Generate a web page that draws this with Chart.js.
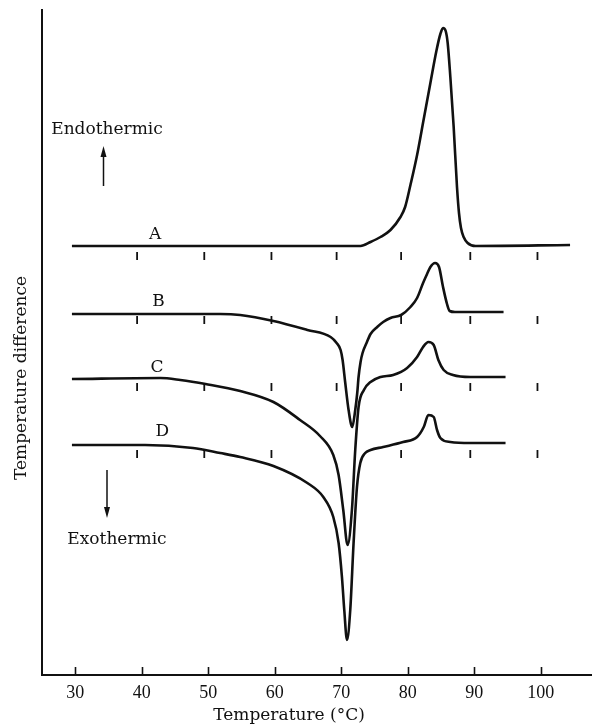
<!DOCTYPE html>
<html>
<head>
<meta charset="utf-8">
<script src="https://cdn.jsdelivr.net/npm/chart.js@4.4.1/dist/chart.umd.min.js"></script>
<style>
  html, body { margin: 0; padding: 0; background: #fff; }
  #wrap { width: 592px; height: 726px; }
</style>
</head>
<body>
<div id="wrap"><canvas id="dta" width="592" height="726"></canvas></div>
<script>
// Temperature axis labels
const xTicks = [30, 40, 50, 60, 70, 80, 90, 100];

// Curve A
const aTemp = [29.5, 50, 72.9, 74.4, 75.9, 77.4, 78.9, 79.6, 80.4, 81.4, 82.4, 83.4, 84.3, 84.9, 85.3, 85.7, 86.0, 86.4, 86.9, 87.4, 87.7, 88.0, 88.4, 89.0, 90.2, 104.4];
const aVal  = [429, 429, 429, 433, 438, 445, 458, 468, 490, 520, 556, 592, 624, 641, 647, 644, 632, 598, 548, 488, 462, 447, 438, 432, 429, 430];

// Curve B
const bTemp = [29.5, 42.8, 51.8, 54.8, 59.8, 64.9, 68.4, 69.3, 69.9, 70.2, 70.6, 71.1, 71.65, 72.1, 72.4, 72.6, 72.9, 73.2, 73.8, 74.4, 75.4, 76.3, 77.4, 79.0, 80.4, 81.4, 82.3, 82.9, 83.4, 84.1, 84.7, 85.3, 85.9, 86.3, 87.1, 94.4];
const bVal  = [361, 361, 361, 360, 354, 345, 338, 332, 325, 315, 292, 265, 248, 265, 282, 298, 313, 322, 332, 341, 348, 353, 357, 360, 368, 377, 392, 401, 408, 412, 408, 388, 371, 364, 363, 363];

// Curve C
const cTemp = [29.5, 42.8, 45.8, 49.6, 54.8, 59.8, 63.8, 66.8, 68.8, 69.6, 70.3, 70.95, 71.6, 72.1, 72.6, 73.4, 74.4, 75.9, 77.8, 79.9, 81.4, 82.3, 83.1, 83.9, 84.6, 85.4, 86.8, 89.4, 94.7];
const cVal  = [296, 297, 295, 291, 284, 273, 255, 239, 220, 200, 165, 130, 165, 225, 268, 285, 293, 298, 300, 307, 318, 328, 333, 330, 315, 305, 300, 298, 298];

// Curve D
const dTemp = [29.5, 40.5, 47.7, 51.8, 54.8, 59.8, 64.9, 67.3, 68.8, 69.6, 70.1, 70.45, 70.86, 71.35, 71.85, 72.36, 72.86, 73.6, 74.4, 76.3, 79.3, 81.4, 82.4, 83.1, 83.9, 84.4, 84.9, 86.4, 89.4, 94.7];
const dVal  = [230, 230, 227, 222, 218, 209, 192, 178, 158, 132, 98, 65, 35, 65, 132, 188, 212, 222, 225, 228, 233, 238, 248, 260, 258, 245, 237, 233, 232, 232];

// Temperature marks drawn under each curve
const markTemp  = [39.3, 49.4, 59.5, 69.3, 79.0, 89.4, 99.5];
const markTempD = [39.3, 49.4, 59.5, 79.0, 89.4, 99.5];
const markLevel = { A: 419, B: 355, C: 288, D: 221 };

const INK = '#111';
const TEXT_FONT = '17px "DejaVu Serif", serif';

function pts(xs, ys) {
    return xs.map((x, i) => ({ x: x, y: ys[i] }));
}

function curve(label, xs, ys) {
    return {
        label: label,
        data: pts(xs, ys),
        borderColor: INK,
        borderWidth: 2.6,
        pointRadius: 0,
        cubicInterpolationMode: 'monotone',
        fill: false
    };
}

function marks(label, xs, level) {
    return {
        label: label,
        data: xs.map(x => ({ x: x, y: level })),
        showLine: false,
        pointStyle: 'line',
        rotation: 90,
        pointRadius: 4,
        borderColor: INK,
        borderWidth: 1.8
    };
}

// Text and arrows put on the chart (curve labels use data coordinates)
const curveLabels = [
    { text: 'A', x: 42.0, y: 440 },
    { text: 'B', x: 42.5, y: 373 },
    { text: 'C', x: 42.3, y: 307 },
    { text: 'D', x: 43.1, y: 243 }
];

const annotPlugin = {
    id: 'annot',
    afterDraw(chart) {
        const ctx = chart.ctx;
        const xs = chart.scales.x;
        const ys = chart.scales.y;
        const bottom = chart.chartArea.bottom;
        ctx.save();
        ctx.strokeStyle = INK;
        ctx.fillStyle = INK;

        // inward ticks on the temperature axis
        ctx.lineWidth = 1.6;
        xTicks.forEach(v => {
            const px = Math.round(xs.getPixelForValue(v)) + 0.5;
            ctx.beginPath();
            ctx.moveTo(px, bottom);
            ctx.lineTo(px, bottom - 8);
            ctx.stroke();
        });

        ctx.font = TEXT_FONT;
        ctx.textAlign = 'center';
        ctx.textBaseline = 'middle';
        curveLabels.forEach(l => {
            ctx.fillText(l.text, xs.getPixelForValue(l.x), ys.getPixelForValue(l.y));
        });

        ctx.fillText('Endothermic', 107, 130);
        ctx.fillText('Exothermic', 117, 540);
        ctx.fillText('Temperature (°C)', 289, 716);

        // arrows
        const arrow = (x, y1, y2) => {
            const dir = y2 < y1 ? -1 : 1;
            ctx.lineWidth = 1.5;
            ctx.beginPath();
            ctx.moveTo(x, y1);
            ctx.lineTo(x, y2 - dir * 8);
            ctx.stroke();
            ctx.beginPath();
            ctx.moveTo(x, y2);
            ctx.lineTo(x - 3, y2 - dir * 11);
            ctx.lineTo(x + 3, y2 - dir * 11);
            ctx.closePath();
            ctx.fill();
        };
        arrow(103.5, 186, 146);
        arrow(107, 470, 518);

        // vertical axis title
        ctx.translate(22, 378);
        ctx.rotate(-Math.PI / 2);
        ctx.fillText('Temperature difference', 0, 0);
        ctx.restore();
    }
};

const ctx = document.getElementById('dta').getContext('2d');
new Chart(ctx, {
    type: 'line',
    data: {
        datasets: [
            curve('A', aTemp, aVal),
            curve('B', bTemp, bVal),
            curve('C', cTemp, cVal),
            curve('D', dTemp, dVal),
            marks('A marks', markTemp, markLevel.A),
            marks('B marks', markTemp, markLevel.B),
            marks('C marks', markTemp, markLevel.C),
            marks('D marks', markTempD, markLevel.D)
        ]
    },
    options: {
        responsive: false,
        animation: false,
        devicePixelRatio: 1,
        layout: { autoPadding: false, padding: { left: 42, top: 10, right: 0, bottom: 0 } },
        plugins: {
            legend: { display: false },
            tooltip: { enabled: false }
        },
        scales: {
            x: {
                type: 'linear',
                min: 25,
                max: 107.7,
                afterBuildTicks: axis => { axis.ticks = xTicks.map(v => ({ value: v })); },
                afterFit: axis => {
                    axis.height = 51;
                    axis.paddingLeft = 0;
                    axis.paddingRight = 0;
                },
                grid: { display: false, drawTicks: false },
                border: { display: true, color: INK, width: 2 },
                ticks: {
                    color: INK,
                    padding: 7,
                    maxRotation: 0,
                    font: { family: '"Liberation Serif", serif', size: 18 }
                }
            },
            y: {
                type: 'linear',
                min: 0,
                max: 665,
                afterFit: axis => {
                    axis.width = 0;
                    axis.paddingTop = 0;
                    axis.paddingBottom = 0;
                },
                grid: { display: false, drawTicks: false },
                border: { display: true, color: INK, width: 2 },
                ticks: { display: false }
            }
        }
    },
    plugins: [annotPlugin]
});
</script>
</body>
</html>
